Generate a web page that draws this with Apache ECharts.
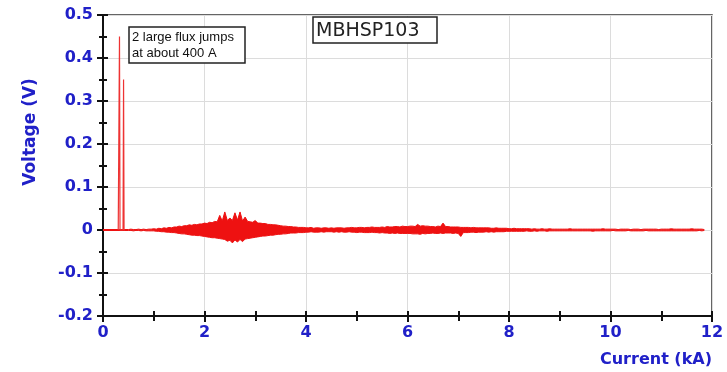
<!DOCTYPE html>
<html>
<head>
<meta charset="utf-8">
<script src="https://cdn.jsdelivr.net/npm/echarts@6/dist/echarts.min.js"></script>
<style>
html,body{margin:0;padding:0;background:#fff;}
#chart{width:727px;height:372px;}
</style>
</head>
<body>
<div id="chart"></div>
<script>
// ---- Data ----
// Baseline before the flux jumps (kA, V)
var baseCurrent = [0, 0.5];
var baseVoltage = [0, 0];
// The two large flux jumps near 400 A
var jumpCurrent = [0.30, 0.315, 0.325, 0.335, 0.395, 0.405, 0.415, 0.43];
var jumpVoltage = [0, 0, 0.45, 0, 0, 0.35, 0, 0];
var noiseStart = 0.5;
var noiseStep = 0.05;
var noiseUpper = [
  0.001,0.002,0.001,0.001,0.002,0.001,0.002,0.001,0.002,0.002,
  0.003,0.002,0.004,0.003,0.005,0.004,0.006,0.005,0.007,0.007,
  0.009,0.008,0.010,0.010,0.012,0.011,0.013,0.012,0.014,0.014,
  0.016,0.015,0.018,0.017,0.020,0.019,0.034,0.021,0.042,0.022,
  0.028,0.022,0.040,0.023,0.042,0.021,0.030,0.020,0.019,0.018,
  0.022,0.016,0.016,0.015,0.015,0.013,0.013,0.012,0.012,0.011,
  0.010,0.009,0.009,0.008,0.008,0.007,0.007,0.006,0.006,0.006,
  0.005,0.005,0.006,0.004,0.005,0.005,0.004,0.005,0.005,0.004,
  0.005,0.004,0.005,0.005,0.005,0.004,0.005,0.005,0.006,0.005,
  0.005,0.006,0.006,0.005,0.006,0.006,0.007,0.006,0.006,0.006,
  0.007,0.006,0.008,0.007,0.007,0.008,0.008,0.007,0.009,0.008,
  0.008,0.009,0.009,0.008,0.013,0.009,0.010,0.009,0.009,0.008,
  0.008,0.007,0.009,0.008,0.016,0.008,0.008,0.007,0.007,0.007,
  0.007,0.006,0.006,0.006,0.006,0.005,0.006,0.005,0.005,0.005,
  0.005,0.005,0.005,0.004,0.004,0.005,0.004,0.004,0.004,0.004,
  0.003,0.003,0.004,0.003,0.003,0.003,0.003,0.003,0.003,0.002,
  0.003,0.002,0.002,0.003,0.002,0.002,0.003,0.002,0.002,0.002,
  0.002,0.002,0.002,0.002,0.003,0.002,0.002,0.002,0.002,0.002,
  0.002,0.002,0.002,0.002,0.002,0.002,0.002,0.003,0.002,0.002,
  0.002,0.002,0.002,0.001,0.002,0.002,0.002,0.002,0.001,0.002,
  0.002,0.002,0.001,0.002,0.002,0.002,0.002,0.002,0.002,0.001,
  0.002,0.002,0.002,0.002,0.003,0.002,0.002,0.002,0.002,0.002,
  0.002,0.002,0.003,0.002,0.002,0.002,0.002,0.001
];
var noiseLower = [
  -0.001,-0.001,-0.002,-0.001,-0.001,-0.002,-0.001,-0.002,-0.002,-0.002,
  -0.002,-0.003,-0.003,-0.004,-0.004,-0.005,-0.005,-0.006,-0.006,-0.007,
  -0.008,-0.009,-0.009,-0.010,-0.011,-0.012,-0.012,-0.013,-0.013,-0.014,
  -0.015,-0.016,-0.017,-0.018,-0.018,-0.019,-0.020,-0.021,-0.022,-0.026,
  -0.024,-0.030,-0.023,-0.028,-0.022,-0.027,-0.021,-0.020,-0.019,-0.018,
  -0.017,-0.016,-0.015,-0.014,-0.014,-0.013,-0.012,-0.012,-0.011,-0.010,
  -0.010,-0.009,-0.009,-0.008,-0.007,-0.007,-0.007,-0.006,-0.006,-0.006,
  -0.005,-0.005,-0.004,-0.005,-0.005,-0.005,-0.004,-0.005,-0.004,-0.004,
  -0.004,-0.005,-0.004,-0.005,-0.004,-0.005,-0.005,-0.004,-0.005,-0.005,
  -0.006,-0.005,-0.005,-0.006,-0.006,-0.006,-0.005,-0.006,-0.006,-0.007,
  -0.006,-0.007,-0.007,-0.008,-0.007,-0.008,-0.007,-0.008,-0.008,-0.008,
  -0.008,-0.008,-0.009,-0.009,-0.009,-0.010,-0.008,-0.009,-0.008,-0.008,
  -0.007,-0.008,-0.008,-0.007,-0.008,-0.007,-0.007,-0.007,-0.008,-0.007,
  -0.008,-0.015,-0.006,-0.006,-0.006,-0.005,-0.005,-0.006,-0.005,-0.005,
  -0.005,-0.004,-0.005,-0.004,-0.005,-0.004,-0.004,-0.004,-0.004,-0.003,
  -0.003,-0.003,-0.003,-0.003,-0.003,-0.003,-0.003,-0.002,-0.003,-0.003,
  -0.002,-0.003,-0.002,-0.002,-0.002,-0.003,-0.002,-0.002,-0.002,-0.002,
  -0.002,-0.002,-0.002,-0.002,-0.002,-0.002,-0.002,-0.002,-0.002,-0.002,
  -0.002,-0.002,-0.002,-0.003,-0.002,-0.002,-0.002,-0.002,-0.002,-0.002,
  -0.002,-0.001,-0.002,-0.002,-0.002,-0.002,-0.002,-0.001,-0.002,-0.002,
  -0.002,-0.002,-0.002,-0.002,-0.001,-0.002,-0.002,-0.002,-0.002,-0.002,
  -0.002,-0.002,-0.002,-0.002,-0.002,-0.002,-0.002,-0.002,-0.002,-0.002,
  -0.002,-0.002,-0.002,-0.002,-0.002,-0.001,-0.002,-0.001
];
// Axis ranges / ticks
var xMin = 0, xMax = 12, xInterval = 2;
var yMin = -0.2, yMax = 0.5, yInterval = 0.1;
var titleText = 'MBHSP103';
var noteLines = ['2 large flux jumps', 'at about 400 A'];
var xName = 'Current (kA)';
var yName = 'Voltage (V)';

// ---- Build series data ----
function pairs(xs, ys){ var out=[]; for(var i=0;i<xs.length;i++) out.push([xs[i], ys[i]]); return out; }
function sampled(vals){
  var out=[]; for (var i=0;i<vals.length;i++) out.push([+(noiseStart + i*noiseStep).toFixed(3), vals[i]]); return out;
}

var RED = '#ee1111';
var BLUE = '#2020c8';
var labelFont = {color: BLUE, fontFamily: 'DejaVu Sans', fontWeight: 'bold', fontSize: 16};

function bandSeries(vals){
  return {
    type: 'line', xAxisIndex: 0, yAxisIndex: 0, data: sampled(vals),
    showSymbol: false, symbol: 'none',
    lineStyle: {color: RED, width: 1},
    areaStyle: {color: RED, opacity: 1, origin: 'auto'}, z: 3
  };
}

var chart = echarts.init(document.getElementById('chart'), null, {renderer: 'canvas'});
chart.setOption({
  animation: false,
  backgroundColor: '#fff',
  grid: {left: 103, right: 15, top: 15, bottom: 56, show: true, borderColor: '#333', borderWidth: 1.5, backgroundColor: 'transparent'},
  xAxis: [{
    type: 'value', min: xMin, max: xMax, interval: xInterval, position: 'bottom',
    axisLine: {show: true, onZero: false, lineStyle: {color: '#111', width: 2}},
    axisTick: {show: true, length: 6, lineStyle: {color: '#111', width: 2}},
    minorTick: {show: true, splitNumber: 2, length: 5, lineStyle: {color: '#111', width: 2}},
    axisLabel: Object.assign({margin: 9}, labelFont),
    splitLine: {show: true, lineStyle: {color: '#dcdcdc', width: 1}}
  }, {
    type: 'value', min: xMin, max: xMax, interval: xInterval, position: 'bottom', offset: 0,
    axisLine: {show: false, onZero: false},
    axisTick: {show: true, inside: true, length: 5, lineStyle: {color: '#111', width: 2}},
    minorTick: {show: true, splitNumber: 2, length: 5, lineStyle: {color: '#111', width: 2}},
    axisLabel: {show: false}, splitLine: {show: false}
  }],
  yAxis: [{
    type: 'value', min: yMin, max: yMax, interval: yInterval, position: 'left',
    axisLine: {show: true, onZero: false, lineStyle: {color: '#111', width: 2}},
    axisTick: {show: true, length: 6, lineStyle: {color: '#111', width: 2}},
    minorTick: {show: true, splitNumber: 2, length: 4, lineStyle: {color: '#111', width: 2}},
    axisLabel: Object.assign({margin: 10, formatter: function(v){ return (Math.round(v*10)/10).toString(); }}, labelFont),
    splitLine: {show: true, lineStyle: {color: '#dcdcdc', width: 1}}
  }, {
    type: 'value', min: yMin, max: yMax, interval: yInterval, position: 'left', offset: 0,
    axisLine: {show: false, onZero: false},
    axisTick: {show: true, inside: true, length: 5, lineStyle: {color: '#111', width: 2}},
    minorTick: {show: true, splitNumber: 2, length: 4, lineStyle: {color: '#111', width: 2}},
    axisLabel: {show: false}, splitLine: {show: false}
  }],
  series: [
    bandSeries(noiseUpper),
    bandSeries(noiseLower),
    {
      type: 'line', xAxisIndex: 0, yAxisIndex: 0, data: pairs(baseCurrent, baseVoltage),
      showSymbol: false, symbol: 'none', lineStyle: {color: RED, width: 2}, z: 3
    }, {
      type: 'line', xAxisIndex: 0, yAxisIndex: 0, data: pairs(jumpCurrent, jumpVoltage),
      showSymbol: false, symbol: 'none', lineStyle: {color: '#ee3333', width: 1.2}, z: 3
    }
  ],
  graphic: [
    {type: 'rect', shape: {x: 129, y: 27, width: 116, height: 36}, style: {fill: '#fff', stroke: '#222', lineWidth: 1.5}, z: 10},
    {type: 'text', x: 132, y: 37, style: {text: noteLines[0], fill: '#111', font: '13px "Liberation Sans"', textVerticalAlign: 'middle'}, z: 11},
    {type: 'text', x: 132, y: 53, style: {text: noteLines[1], fill: '#111', font: '13px "Liberation Sans"', textVerticalAlign: 'middle'}, z: 11},
    {type: 'rect', shape: {x: 313, y: 17, width: 124, height: 26}, style: {fill: '#fff', stroke: '#222', lineWidth: 1.5}, z: 10},
    {type: 'text', x: 316, y: 31, style: {text: titleText, fill: '#222', font: '19px "DejaVu Sans"', textVerticalAlign: 'middle'}, z: 11},
    {type: 'text', x: 712, y: 360, style: {text: xName, fill: BLUE, font: 'bold 16px "DejaVu Sans"', textAlign: 'right', textVerticalAlign: 'middle'}, z: 11},
    {type: 'text', x: 31, y: 132, rotation: Math.PI/2, style: {text: yName, fill: BLUE, font: 'bold 17px "DejaVu Sans"', textAlign: 'center', textVerticalAlign: 'middle'}, z: 11}
  ]
});
</script>
</body>
</html>
